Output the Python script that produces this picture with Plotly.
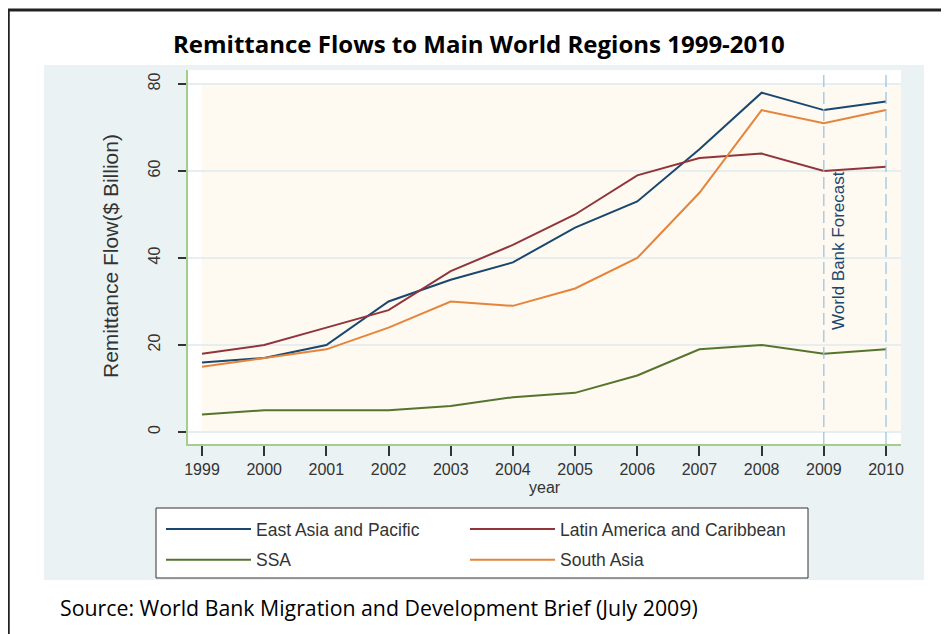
import plotly.graph_objects as go

years = [1999, 2000, 2001, 2002, 2003, 2004, 2005, 2006, 2007, 2008, 2009, 2010]
east_asia = [16, 17, 20, 30, 35, 39, 47, 53, 65, 78, 74, 76]
latin_america = [18, 20, 24, 28, 37, 43, 50, 59, 63, 64, 60, 61]
ssa = [4, 5, 5, 5, 6, 8, 9, 13, 19, 20, 18, 19]
south_asia = [15, 17, 19, 24, 30, 29, 33, 40, 55, 74, 71, 74]
y_ticks = [0, 20, 40, 60, 80]
forecast_years = [2009, 2010]

# the page body has an 8px margin, so the figure starts at (8, 8) on screen
OFF = 8
W, H = 949 - OFF, 634 - OFF
L, R, T, B = 188, 901, 70, 444  # plot area, screen pixels


def px(x):
    return (x - L) / (R - L)


def py(y):
    return (B - y) / (B - T)


X_MIN = 1999 - 14 / 62.18
X_MAX = 2010 + 15 / 62.18
Y_MIN = -12 / 4.35
Y_MAX = 80 + 14 / 4.35

FONT = "Liberation Sans, Arial, sans-serif"
TITLE_FONT = "Open Sans, sans-serif"

series = [
    ("East Asia and Pacific", east_asia, "#1a476f", "legend", "g1"),
    ("SSA", ssa, "#55752f", "legend", "g2"),
    ("Latin America and Caribbean", latin_america, "#90353b", "legend2", "g3"),
    ("South Asia", south_asia, "#e5843a", "legend2", "g4"),
]

fig = go.Figure()
for name, vals, color, leg, grp in series:
    fig.add_trace(go.Scatter(x=years, y=vals, name=name, mode="lines", legend=leg,
                             legendgroup=grp, line=dict(color=color, width=2)))

shapes = [
    dict(type="rect", xref="paper", yref="paper", x0=px(44), x1=px(924), y0=py(580), y1=py(65),
         fillcolor="#eaf2f3", line=dict(width=0), layer="below"),
    dict(type="rect", xref="paper", yref="paper", x0=0, x1=1, y0=0, y1=1,
         fillcolor="#ffffff", line=dict(width=0), layer="below"),
    dict(type="rect", xref="x", yref="y", x0=1999, x1=X_MAX, y0=0, y1=80,
         fillcolor="#fef9f1", line=dict(width=0), layer="below"),
    dict(type="rect", xref="paper", yref="paper", x0=px(156), x1=px(808), y0=py(578), y1=py(508),
         fillcolor="#ffffff", line=dict(color="#333333", width=1), layer="below"),
    dict(type="line", xref="paper", yref="paper", x0=px(8.5), x1=px(8.5), y0=py(10), y1=py(640),
         line=dict(color="#222222", width=2.5)),
    dict(type="line", xref="paper", yref="paper", x0=px(8), x1=px(960), y0=py(10), y1=py(10),
         line=dict(color="#222222", width=3)),
]
for fy in forecast_years:
    shapes.append(dict(type="line", xref="x", yref="paper", x0=fy, x1=fy, y0=0, y1=1,
                       line=dict(color="#94c1e2", width=1.2, dash="12px,5px"), layer="above"))

annotations = [
    dict(text="<b>Remittance Flows to Main World Regions 1999-2010</b>", xref="paper", yref="paper",
         x=px(479), y=py(44), showarrow=False, xanchor="center", yanchor="middle",
         font=dict(family=TITLE_FONT, size=24, color="#000000")),
    dict(text="Source: World Bank Migration and Development Brief (July 2009)", xref="paper", yref="paper",
         x=px(58), y=py(607), showarrow=False, xanchor="left", yanchor="middle",
         font=dict(family=TITLE_FONT, size=21.3, color="#000000")),
    dict(text="Remittance Flow($ Billion)", xref="paper", yref="paper",
         x=px(110), y=py(256), showarrow=False, xanchor="center", yanchor="middle", textangle=-90,
         font=dict(family=FONT, size=21, color="#333333")),
    dict(text="year", xref="paper", yref="paper",
         x=0.5, y=py(487), showarrow=False, xanchor="center", yanchor="middle",
         font=dict(family=FONT, size=16, color="#333333")),
    dict(text="World Bank Forecast", xref="x", yref="y",
         x=forecast_years[0], y=41.8, xshift=14, showarrow=False, textangle=-90,
         xanchor="center", yanchor="middle",
         font=dict(family=FONT, size=17, color="#1a476f")),
]

leg_common = dict(orientation="v", xanchor="left", yanchor="top",
                  bgcolor="rgba(0,0,0,0)", borderwidth=0, itemwidth=85,
                  tracegroupgap=5,
                  font=dict(family=FONT, size=17.5, color="#333333"), traceorder="grouped")

fig.update_layout(
    width=W, height=H,
    margin=dict(l=L - OFF, r=W - (R - OFF), t=T - OFF, b=H - (B - OFF), pad=0),
    paper_bgcolor="#ffffff", plot_bgcolor="#ffffff",
    shapes=shapes, annotations=annotations,
    showlegend=True,
    legend=dict(x=px(161), y=py(511), **leg_common),
    legend2=dict(x=px(465), y=py(511), **leg_common),
    xaxis=dict(range=[X_MIN, X_MAX], tickmode="array", tickvals=years, ticktext=[str(y) for y in years],
               showgrid=False, zeroline=False, showline=True, linecolor="#a3cf8b", linewidth=2,
               ticks="outside", ticklen=10, tickwidth=1.5, tickcolor="#333333",
               tickfont=dict(family=FONT, size=16, color="#333333")),
    yaxis=dict(range=[Y_MIN, Y_MAX], tickmode="array", tickvals=y_ticks, ticktext=[str(v) for v in y_ticks],
               showgrid=True, gridcolor="#e6eef0", gridwidth=1.5, zeroline=False,
               showline=True, linecolor="#a3cf8b", linewidth=2,
               ticks="outside", ticklen=8, tickwidth=1.5, tickcolor="#333333", tickangle=-90,
               ticklabelstandoff=12,
               tickfont=dict(family=FONT, size=16, color="#333333")),
)

fig.write_html("out.html")
